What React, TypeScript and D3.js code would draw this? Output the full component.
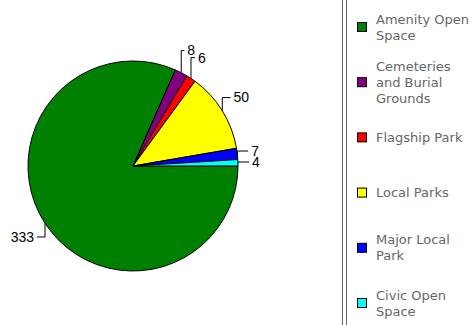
import React from "react";
import * as d3 from "d3";

const categories = [
  "Amenity Open Space",
  "Cemeteries and Burial Grounds",
  "Flagship Park",
  "Local Parks",
  "Major Local Park",
  "Civic Open Space",
];
const values = [333, 8, 6, 50, 7, 4];
const colors = ["#008000", "#800080", "#ff0000", "#ffff00", "#0000ff", "#00ffff"];

const W = 473;
const H = 325;
const cx = 133;
const cy = 166;
const R = 105;

function wrap(text: string, maxW: number, font: string): string[] {
  const c = document.createElement("canvas").getContext("2d")!;
  c.font = font;
  const words = text.split(" ");
  const lines: string[] = [];
  let cur = "";
  for (const w of words) {
    const t = cur ? cur + " " + w : w;
    if (cur && c.measureText(t).width > maxW) {
      lines.push(cur);
      cur = w;
    } else cur = t;
  }
  if (cur) lines.push(cur);
  return lines;
}

export default function App() {
  const data = categories.map((c, i) => ({ name: c, value: values[i], color: colors[i] }));
  const pie = d3
    .pie<any>()
    .value((d) => d.value)
    .sort(null)
    .startAngle(Math.PI / 2)
    .endAngle(Math.PI / 2 + 2 * Math.PI);
  const arcs = pie(data);
  const arc = d3.arc<any>().innerRadius(0).outerRadius(R);

  const legendFont = "13px 'DejaVu Sans'";
  const legendY0 = 27;
  const legendStep = 55.2;
  const lineH = 16;

  return (
    <svg width={W} height={H} style={{ position: "absolute", left: 0, top: 0 }}>
      <rect width={W} height={H} fill="#fff" />
      <g transform={`translate(${cx},${cy})`}>
        {arcs.map((a, i) => (
          <path key={i} d={arc(a) as string} fill={a.data.color} stroke="#000" strokeWidth={1} strokeLinejoin="round" />
        ))}
      </g>
      {arcs.map((a, i) => {
        const m = (a.startAngle + a.endAngle) / 2;
        const s = Math.sin(m);
        const c = -Math.cos(m);
        const ex = cx + R * s;
        const ey = cy + R * c;
        const ly = cy + (R + 25) * c;
        const dir = s >= 0 ? 1 : -1;
        const tick = 1 + 10 * s * s;
        const endX = ex + dir * tick;
        return (
          <g key={"l" + i}>
            <path
              d={`M${ex},${ey}L${ex},${ly}L${endX},${ly}`}
              fill="none"
              stroke="#000"
              strokeWidth={1}
            />
            <text
              x={endX + dir * 3}
              y={ly}
              dy="0.35em"
              textAnchor={dir > 0 ? "start" : "end"}
              fontFamily="'Liberation Sans', Arial, sans-serif"
              fontSize={14}
              fill="#000"
            >
              {a.data.value}
            </text>
          </g>
        );
      })}
      <line x1={342.5} x2={342.5} y1={0} y2={H} stroke="#666" strokeWidth={1} />
      <line x1={346.5} x2={346.5} y1={0} y2={H} stroke="#666" strokeWidth={1} />
      {data.map((d, i) => {
        const yc = legendY0 + legendStep * i;
        const lines = wrap(d.name, 102, legendFont);
        const top = yc - ((lines.length - 1) * lineH) / 2;
        return (
          <g key={"g" + i}>
            <rect x={357.5} y={yc - 4.5} width={9} height={9} fill={d.color} stroke="#000" strokeWidth={1} />
            {lines.map((ln, j) => (
              <text
                key={j}
                x={376}
                y={top + j * lineH}
                dy="0.35em"
                fontFamily="'DejaVu Sans', Verdana, sans-serif"
                fontSize={13}
                fill="#666"
              >
                {ln}
              </text>
            ))}
          </g>
        );
      })}
    </svg>
  );
}
